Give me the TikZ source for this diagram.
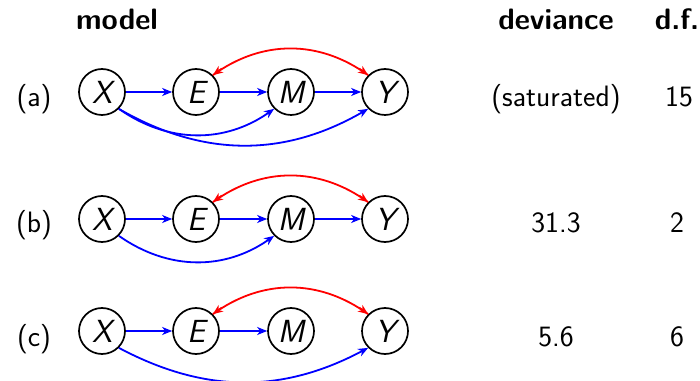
\documentclass[tikz,border=0pt]{standalone}
\usetikzlibrary{arrows.meta}
\begin{document}
\begin{tikzpicture}[x=1pt,y=1pt,
  every node/.style={font=\fontsize{29.5}{34}\selectfont\sffamily},
  var/.style={circle,draw,line width=1.7pt,minimum size=46pt,inner sep=0pt,font=\fontsize{32}{36}\selectfont\sffamily\itshape},
  txt/.style={anchor=base},
  hdr/.style={anchor=base,font=\fontsize{29.5}{34}\selectfont\sffamily\bfseries},
  dirarr/.style={blue,line width=1.8pt,-{Stealth[length=10pt,width=8pt,inset=3pt]}},
  redline/.style={red,line width=1.8pt},
  redtip/.style={red,line width=1.8pt,-{Stealth[length=10pt,width=8pt,inset=3pt]}}
]
\useasboundingbox (0,0) rectangle (700,380);
% headers
\node[hdr] (hmodel) at (117,350) {model};
\node[hdr] (hdev) at (556,350) {deviance};
\node[hdr] (hdf) at (677,350) {d.f.};
% row a
\node[txt] (la) at (34,273) {(a)};
\node[var] (Xa) at (102,288) {X};
\node[var] (Ea) at (196,288) {E};
\node[var] (Ma) at (291,288) {M};
\node[var] (Ya) at (385,288) {Y};
\node[txt] (da) at (556,273) {(saturated)};
\node[txt] (fa) at (679,273) {15};
\draw[dirarr] (Xa) -- (Ea);
\draw[dirarr] (Ea) -- (Ma);
\draw[dirarr] (Ma) -- (Ya);
\draw[dirarr] (Xa.-45) to[bend right=35] (Ma.-135);
\draw[dirarr] (Xa.-45) to[bend right=30] (Ya.-135);
\draw[redline] (Ea.45) to[bend left=36] (Ya.135);
\draw[redtip] ([shift={(36:11)}]Ea.45) -- (Ea.45);
\draw[redtip] ([shift={(144:11)}]Ya.135) -- (Ya.135);
% row b
\node[txt] (lb) at (34,147) {(b)};
\node[var] (Xb) at (102,161) {X};
\node[var] (Eb) at (196,161) {E};
\node[var] (Mb) at (291,161) {M};
\node[var] (Yb) at (385,161) {Y};
\node[txt] (db) at (556,147) {31.3};
\node[txt] (fb) at (677,147) {2};
\draw[dirarr] (Xb) -- (Eb);
\draw[dirarr] (Eb) -- (Mb);
\draw[dirarr] (Mb) -- (Yb);
\draw[dirarr] (Xb.-45) to[bend right=35] (Mb.-135);
\draw[redline] (Eb.45) to[bend left=36] (Yb.135);
\draw[redtip] ([shift={(36:11)}]Eb.45) -- (Eb.45);
\draw[redtip] ([shift={(144:11)}]Yb.135) -- (Yb.135);
% row c
\node[txt] (lc) at (34,34) {(c)};
\node[var] (Xc) at (102,49) {X};
\node[var] (Ec) at (196,49) {E};
\node[var] (Mc) at (291,49) {M};
\node[var] (Yc) at (385,49) {Y};
\node[txt] (dc) at (556,34) {5.6};
\node[txt] (fc) at (677,34) {6};
\draw[dirarr] (Xc) -- (Ec);
\draw[dirarr] (Ec) -- (Mc);
\draw[dirarr] (Xc.-45) to[bend right=28] (Yc.-135);
\draw[redline] (Ec.45) to[bend left=36] (Yc.135);
\draw[redtip] ([shift={(36:11)}]Ec.45) -- (Ec.45);
\draw[redtip] ([shift={(144:11)}]Yc.135) -- (Yc.135);
\end{tikzpicture}
\end{document}
